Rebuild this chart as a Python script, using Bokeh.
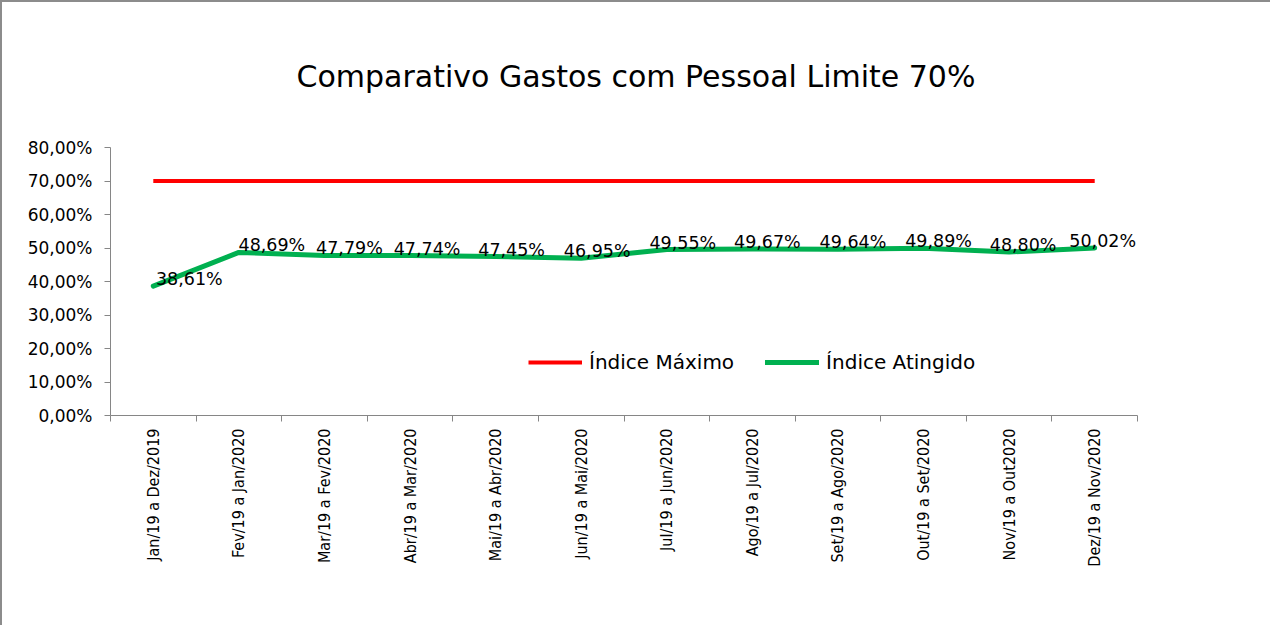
import math
from bokeh.plotting import figure
from bokeh.models import (ColumnDataSource, FixedTicker, CustomJSTickFormatter,
                          Legend, LegendItem, Range1d, Title)
from bokeh.core.properties import value
from bokeh.embed import file_html
from bokeh.resources import INLINE

# ---- data ----
categories = ["Jan/19 a Dez/2019", "Fev/19 a Jan/2020", "Mar/19 a Fev/2020",
              "Abr/19 a Mar/2020", "Mai/19 a Abr/2020", "Jun/19 a Mai/2020",
              "Jul/19 a Jun/2020", "Ago/19 a Jul/2020", "Set/19 a Ago/2020",
              "Out/19 a Set/2020", "Nov/19 a Out2020", "Dez/19 a Nov/2020"]
indice_maximo = [0.70, 0.70, 0.70, 0.70, 0.70, 0.70, 0.70, 0.70, 0.70, 0.70, 0.70, 0.70]
indice_atingido = [0.3861, 0.4869, 0.4779, 0.4774, 0.4745, 0.4695,
                   0.4955, 0.4967, 0.4964, 0.4989, 0.4880, 0.5002]
y_ticks = [0.0, 0.1, 0.2, 0.3, 0.4, 0.5, 0.6, 0.7, 0.8]
title_text = "Comparativo Gastos com Pessoal Limite 70%"

# styling: horizontal pixel offset of each data label from its point
label_dx = [36, 33, 25, 17, 16, 16, 16, 15, 15, 15, 14, 8]

xs = list(range(len(categories)))
labels = [("%.2f%%" % (v * 100)).replace(".", ",") for v in indice_atingido]
src = ColumnDataSource(dict(x=xs, maximo=indice_maximo, atingido=indice_atingido,
                            lab=labels, dx=label_dx))

AXIS_GRAY = "#868686"
FONT = "DejaVu Sans"

p = figure(width=1270, height=625, output_backend="svg", toolbar_location=None,
           x_range=Range1d(-0.5, len(categories) - 0.5), y_range=Range1d(0, 0.8),
           min_border_left=108, min_border_right=135, min_border_top=145,
           min_border_bottom=212)
p.styles = {"border-top": "2px solid #8c8c8c", "border-left": "2px solid #8c8c8c"}
p.outline_line_color = None
p.xgrid.visible = False
p.ygrid.visible = False
p.background_fill_color = "white"
p.border_fill_color = "white"

t = Title(text=title_text, align="left", text_font=FONT, text_font_size="30px",
          text_font_style="normal", text_color="#000000", standoff=107, offset=186)
p.add_layout(t, "above")

r_max = p.line("x", "maximo", source=src, line_color="#FF0000", line_width=4)
r_at = p.line("x", "atingido", source=src, line_color="#00B050", line_width=5,
              line_join="round", line_cap="round")

p.text("x", "atingido", text="lab", source=src, text_font=value(FONT),
       text_font_size="17.5px", text_color="#000000", text_align="center",
       text_baseline="middle", x_offset="dx", y_offset=-7)

# y axis
ya = p.yaxis[0]
ya.ticker = FixedTicker(ticks=y_ticks, minor_ticks=[])
ya.formatter = CustomJSTickFormatter(code="return (tick*100).toFixed(2).replace('.', ',') + '%';")
ya.axis_line_color = AXIS_GRAY
ya.major_tick_line_color = AXIS_GRAY
ya.major_tick_out = 6
ya.major_tick_in = 0
ya.minor_tick_line_color = None
ya.major_label_standoff = 12
ya.major_label_text_font = FONT
ya.major_label_text_font_size = "17px"
ya.major_label_text_color = "#000000"

# x axis
xa = p.xaxis[0]
bounds = [i - 0.5 for i in range(len(categories) + 1)]
xa.ticker = FixedTicker(ticks=xs, minor_ticks=bounds)
xa.major_label_overrides = {i: c for i, c in zip(xs, categories)}
xa.major_label_orientation = math.pi / 2
xa.axis_line_color = AXIS_GRAY
xa.major_tick_line_color = None
xa.minor_tick_line_color = AXIS_GRAY
xa.minor_tick_out = 6
xa.minor_tick_in = 0
xa.major_label_standoff = 7
xa.major_label_text_font = "DejaVu Sans Condensed"
xa.major_label_text_font_size = "16px"
xa.major_label_text_color = "#000000"

legend = Legend(items=[LegendItem(label="Índice Máximo", renderers=[r_max]),
                       LegendItem(label="Índice Atingido", renderers=[r_at])],
                orientation="horizontal", location=(418, 41),
                border_line_color=None, background_fill_alpha=0,
                padding=0, margin=0, spacing=31, label_standoff=7,
                glyph_width=54, glyph_height=20, label_height=20,
                label_text_font=FONT, label_text_font_size="20px",
                label_text_color="#000000")
p.add_layout(legend)

open("out.html", "w").write(file_html(p, INLINE))
